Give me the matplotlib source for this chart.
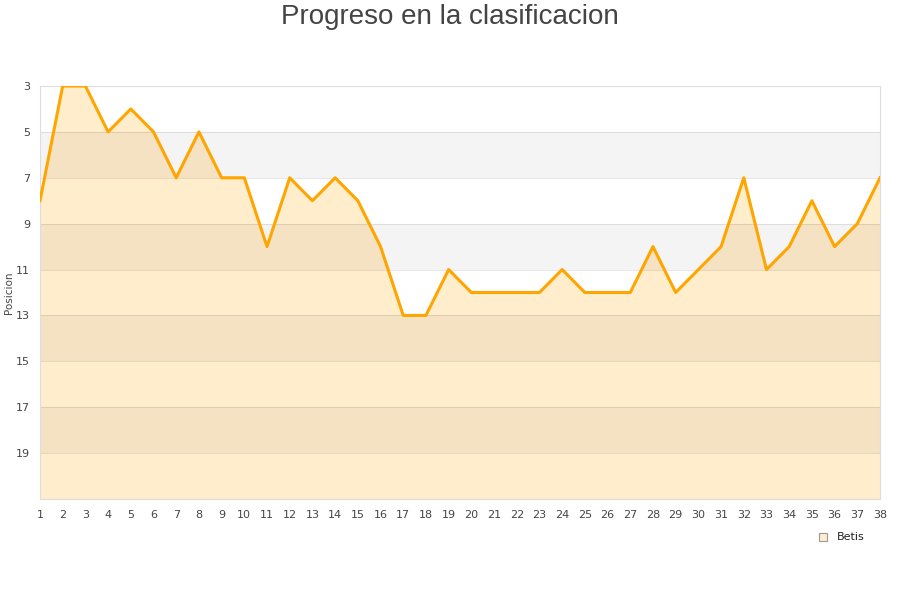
import matplotlib
matplotlib.use("Agg")
import matplotlib.pyplot as plt

# jornadas y posicion del Betis
jornadas = list(range(1, 39))
posicion = [8, 3, 3, 5, 4, 5, 7, 5, 7, 7, 10, 7, 8, 7, 8, 10, 13, 13, 11, 12,
            12, 12, 12, 11, 12, 12, 12, 10, 12, 11, 10, 7, 11, 10, 8, 10, 9, 7]
y_ticks = [3, 5, 7, 9, 11, 13, 15, 17, 19]
equipo = "Betis"

fig = plt.figure(figsize=(9, 6), dpi=100)
ax = fig.add_axes([40 / 900, 1 - 499 / 600, 840 / 900, 413 / 600])

ax.fill_between(jornadas, posicion, 21, color="#ffedcc", lw=0, zorder=1)

# bandas alternas de fondo (por encima del relleno)
for i, lo in enumerate(range(3, 21, 2)):
    if i % 2 == 1:
        ax.axhspan(lo, lo + 2, color="#000000", alpha=0.045, zorder=2, lw=0)
for t in y_ticks[1:]:
    ax.axhline(t, color="#000000", alpha=0.09, lw=0.8, zorder=2)

ax.plot(jornadas, posicion, color="#ffa500", lw=2.2, zorder=3)

ax.set_xlim(1, 38)
ax.set_ylim(21, 3)
ax.set_xticks(jornadas)
ax.set_yticks(y_ticks)
ax.tick_params(length=0, labelsize=8, colors="#444444", pad=8)
ax.tick_params(axis="y", pad=7)
for s in ax.spines.values():
    s.set_color("#dddddd")
    s.set_linewidth(0.8)
ax.set_ylabel("Posicion", fontsize=7.5, color="#444444")
ax.yaxis.set_label_coords(-0.031, 0.5)

fig.suptitle("Progreso en la clasificacion", fontsize=20, color="#444444",
             family="Liberation Sans", y=0.993)

# leyenda
fig.patches.append(plt.Rectangle((819 / 900, 1 - 541 / 600), 8 / 900, 8 / 600,
                                 transform=fig.transFigure, facecolor="#ffedcc",
                                 edgecolor="#999999", lw=0.8))
fig.text(837 / 900, 1 - 537 / 600, equipo, fontsize=8, color="#222222", va="center")

fig.savefig("out.png", dpi=100)
